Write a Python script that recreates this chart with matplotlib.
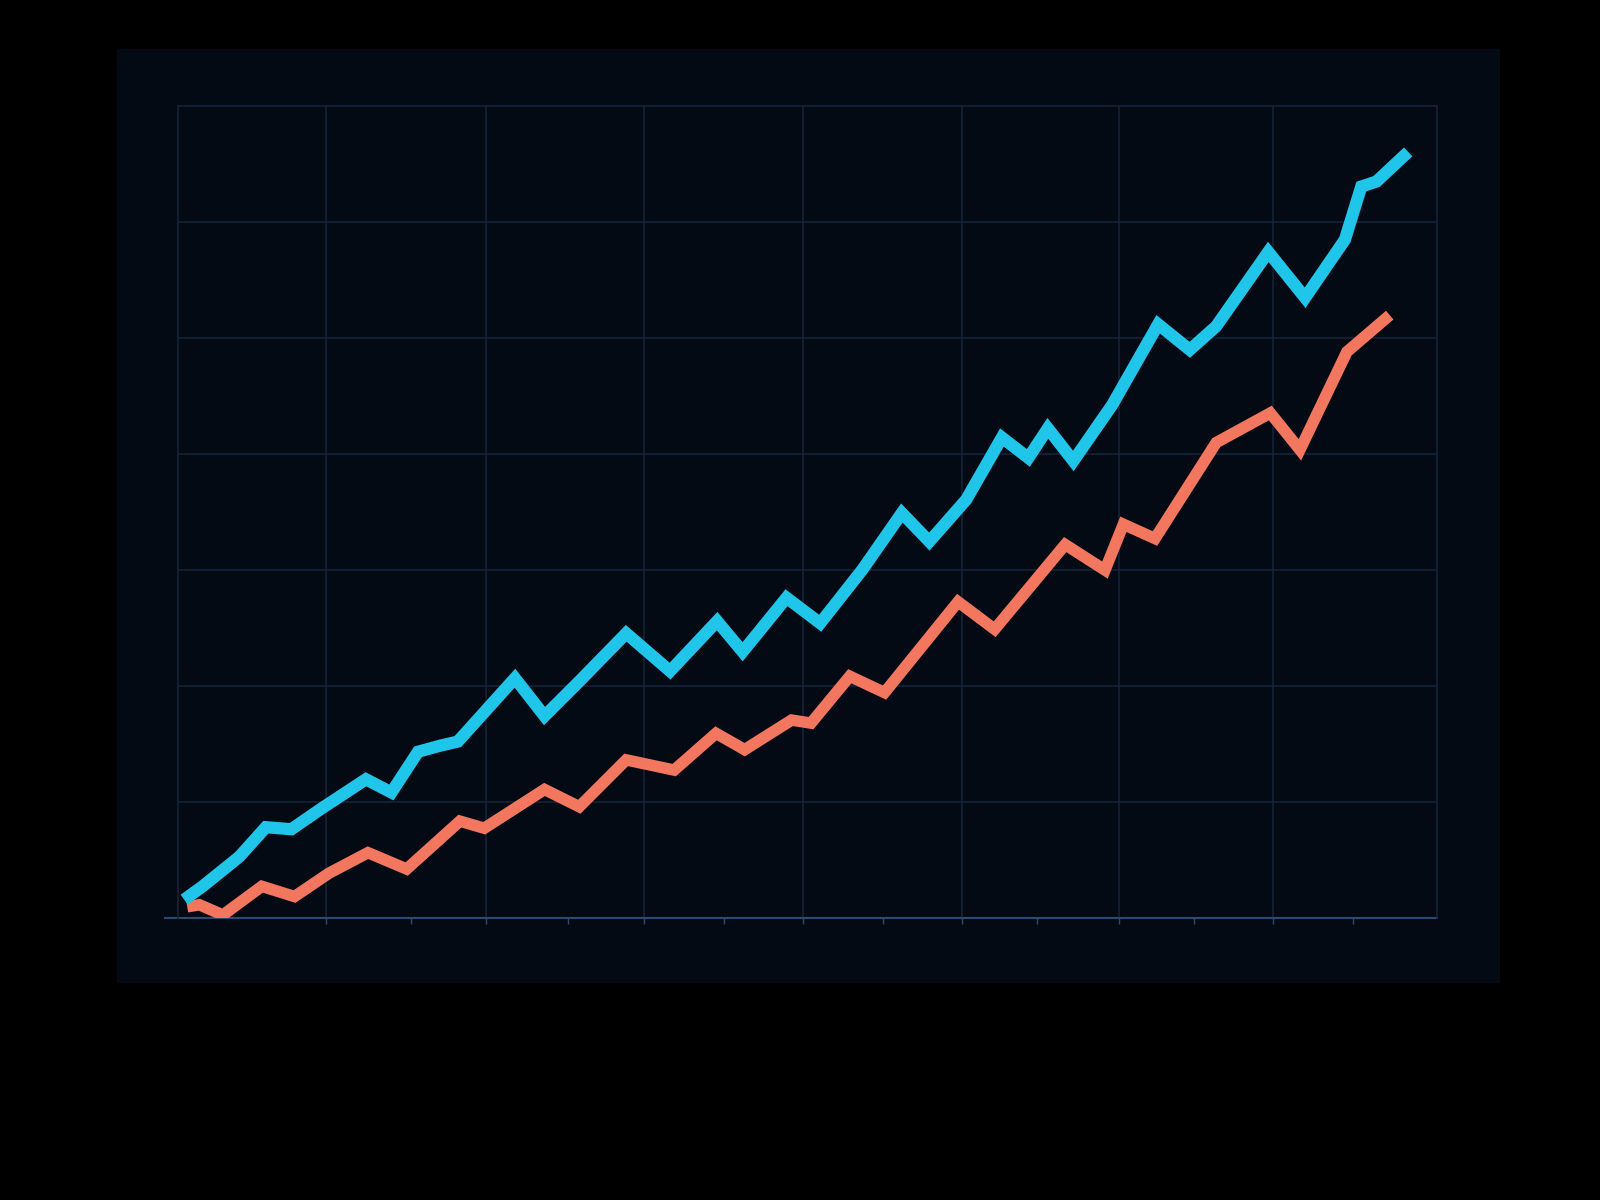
import matplotlib
matplotlib.use("Agg")
import matplotlib.pyplot as plt

# two series (x: 0-80, y: 0-70)
blue_x = [0.39, 1.56, 3.89, 5.58, 7.20, 9.08, 11.94, 13.56, 15.25, 16.67, 17.78,
          21.41, 23.29, 25.63, 28.48, 31.27, 34.26, 35.88, 38.67, 40.81, 43.47,
          46.00, 47.75, 50.09, 52.36, 54.04, 55.28, 56.90, 59.37, 62.29, 64.30,
          65.98, 69.29, 71.63, 74.16, 75.20, 76.17, 78.18]
blue_y = [1.58, 2.73, 5.28, 7.83, 7.65, 9.41, 11.96, 10.82, 14.33, 14.86, 15.21,
          20.67, 17.41, 20.58, 24.54, 21.28, 25.59, 22.95, 27.61, 25.41, 29.99,
          34.91, 32.45, 36.06, 41.42, 39.66, 42.21, 39.40, 44.23, 51.18, 48.98,
          51.01, 57.42, 53.47, 58.48, 63.05, 63.49, 66.04]

red_x = [0.58, 1.36, 2.85, 5.32, 7.40, 9.60, 12.07, 14.53, 17.91, 19.46, 23.29,
         25.50, 28.48, 31.53, 34.19, 36.01, 38.99, 40.23, 42.69, 44.90, 49.57,
         51.90, 56.38, 58.91, 60.08, 62.09, 65.98, 69.42, 71.30, 72.73, 74.29, 77.01]
red_y = [0.97, 1.14, 0.26, 2.73, 1.85, 3.87, 5.63, 4.22, 8.35, 7.74, 11.08,
         9.59, 13.63, 12.75, 15.92, 14.51, 17.06, 16.80, 20.84, 19.43, 27.26,
         24.89, 32.19, 29.99, 33.94, 32.71, 40.98, 43.53, 40.36, 44.41, 48.81, 51.97]

# grid positions as they sit in the picture (not quite even)
x_grid = [9.4, 19.6, 29.6, 39.7, 49.8, 59.8, 69.6]
x_minor = [14.8, 24.8, 34.7, 44.8, 54.6, 64.6, 74.7]
y_grid = [10, 20, 30, 40, 50, 60]

bg = "#000000"
panel_col = "#030a13"
grid_col = "#14253b"
axis_col = "#2b4a6e"
blue = "#1fc6ea"
red = "#f3765f"

fig = plt.figure(figsize=(16, 12), dpi=100, facecolor=bg)

# dark panel behind the plot
panel = fig.add_axes([0.0731, 0.1808, 0.8644, 0.7784])
panel.set_facecolor(panel_col)
panel.set_xticks([])
panel.set_yticks([])
for s in panel.spines.values():
    s.set_visible(False)

ax = fig.add_axes([0.1113, 0.235, 0.7867, 0.6767])
ax.set_facecolor(panel_col)
ax.set_xlim(0, 80)
ax.set_ylim(0, 70)

ax.set_xticks(x_grid)
ax.set_yticks(y_grid)
ax.set_xticks(x_minor, minor=True)
ax.grid(True, which="major", color=grid_col, linewidth=1.1)
ax.tick_params(axis="y", length=0, labelleft=False)
ax.tick_params(axis="x", which="both", direction="out", length=4, width=1,
               color=axis_col, labelbottom=False)

for side in ["left", "top", "right"]:
    ax.spines[side].set_color(grid_col)
    ax.spines[side].set_linewidth(1.1)
ax.spines["bottom"].set_visible(False)
# bottom axis line runs a little past the left edge
ax.plot([-0.8, 80], [0, 0], color=axis_col, linewidth=1.5, clip_on=False, zorder=2)

ax.plot(red_x, red_y, color=red, linewidth=8.3, solid_joinstyle="miter",
        solid_capstyle="butt", zorder=3)
ax.plot(blue_x, blue_y, color=blue, linewidth=8.8, solid_joinstyle="miter",
        solid_capstyle="butt", zorder=4)

fig.savefig("out.png", dpi=100, facecolor=bg)
